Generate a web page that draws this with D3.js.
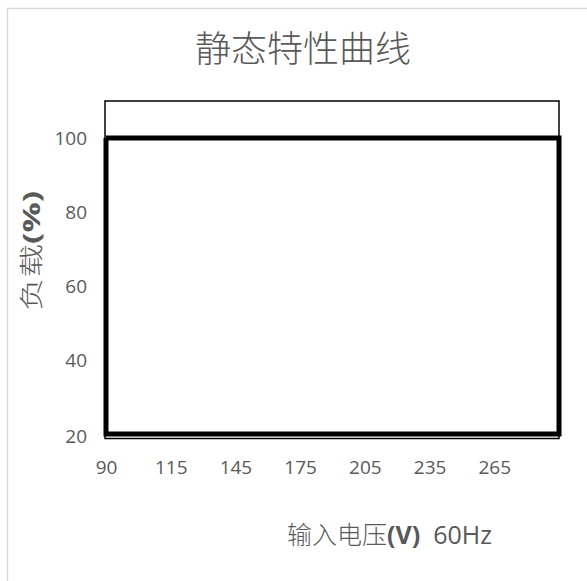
<!DOCTYPE html>
<html lang="zh">
<head>
<meta charset="UTF-8">
<title>静态特性曲线</title>
<script src="https://cdn.jsdelivr.net/npm/d3@7"></script>
<style>
  body { margin: 0; background: #fff; }
  text { fill: #595959; }
</style>
</head>
<body>
<div id="chart"></div>
<script>
    // x 轴类别 (最后一个位置没有标签)
    var categories = ["90", "115", "145", "175", "205", "235", "265", ""];
    var yTicks = [20, 40, 60, 80, 100];
    // 负载曲线: 闭合的矩形
    var loadX = ["90", "", "", "90", "90"];
    var loadY = [100, 100, 20, 20, 100];

    var width = 587, height = 581;
    var plotL = 105, plotR = 559, plotT = 101, plotB = 437;

    var svg = d3.select("#chart").append("svg")
        .attr("width", width)
        .attr("height", height);

    // 外框
    svg.append("rect")
        .attr("x", 7.5).attr("y", 8.5)
        .attr("width", 600).attr("height", 600)
        .attr("fill", "none")
        .attr("stroke", "#d9d9d9")
        .attr("stroke-width", 1.5);

    var x = d3.scalePoint().domain(categories).range([plotL + 1, plotR]);
    var y = d3.scaleLinear().domain([20, 110]).range([plotB - 3, plotT]);

    // 标题
    svg.append("text")
        .attr("x", 303).attr("y", 62)
        .attr("text-anchor", "middle")
        .style("font-family", "'Noto Sans CJK SC'")
        .style("font-weight", 300)
        .style("font-size", "36px")
        .text("静态特性曲线");

    // 绘图区边框
    svg.append("rect")
        .attr("x", plotL).attr("y", plotT)
        .attr("width", plotR - plotL).attr("height", plotB - plotT + 1.5)
        .attr("fill", "none")
        .attr("stroke", "#000")
        .attr("stroke-width", 1.5);

    // y 轴刻度
    var yAxis = svg.append("g")
        .attr("transform", "translate(" + (plotL - 18) + ",0)")
        .call(d3.axisLeft(y).tickValues(yTicks).tickSize(0).tickPadding(0));
    yAxis.select(".domain").remove();
    yAxis.selectAll("text")
        .attr("dy", "0.35em")
        .style("font-family", "'Open Sans'")
        .style("font-size", "19px")
        .attr("text-anchor", "end");
    // 20 的标签落在底线处
    yAxis.selectAll(".tick").filter(function (d) { return d === 20; })
        .attr("transform", "translate(0," + (plotB - 1) + ")");

    // x 轴刻度
    var xAxis = svg.append("g")
        .attr("transform", "translate(0," + (plotB + 30) + ")")
        .call(d3.axisBottom(x).tickSize(0).tickPadding(0));
    xAxis.select(".domain").remove();
    xAxis.selectAll("text")
        .attr("dy", "0.35em")
        .style("font-family", "'Open Sans'")
        .style("font-size", "19px");

    // 负载曲线
    var line = d3.line()
        .x(function (d, i) { return x(loadX[i]); })
        .y(function (d) { return y(d); });
    svg.append("path")
        .attr("d", line(loadY))
        .attr("fill", "none")
        .attr("stroke", "#000")
        .attr("stroke-width", 5)
        .attr("stroke-linejoin", "miter");

    // y 轴标题
    var yt = svg.append("text")
        .attr("transform", "translate(40,251) rotate(-90) scale(1.4,1)")
        .attr("text-anchor", "middle")
        .style("font-family", "'Noto Sans CJK SC'")
        .style("font-size", "24px");
    yt.append("tspan").style("font-weight", 300).text("负载");
    yt.append("tspan").style("font-weight", "bold").style("font-family", "'Open Sans'").text("(%)");

    // x 轴标题
    var xt = svg.append("text")
        .attr("x", 287).attr("y", 544)
        .style("font-family", "'Noto Sans CJK SC'")
        .style("font-size", "25px");
    xt.append("tspan").style("font-weight", 300).text("输入电压");
    xt.append("tspan").style("font-weight", "bold").style("font-family", "'Open Sans'").text("(V)");
    xt.append("tspan").style("font-family", "'Open Sans'").text("\u00a0 60Hz");
</script>
</body>
</html>
